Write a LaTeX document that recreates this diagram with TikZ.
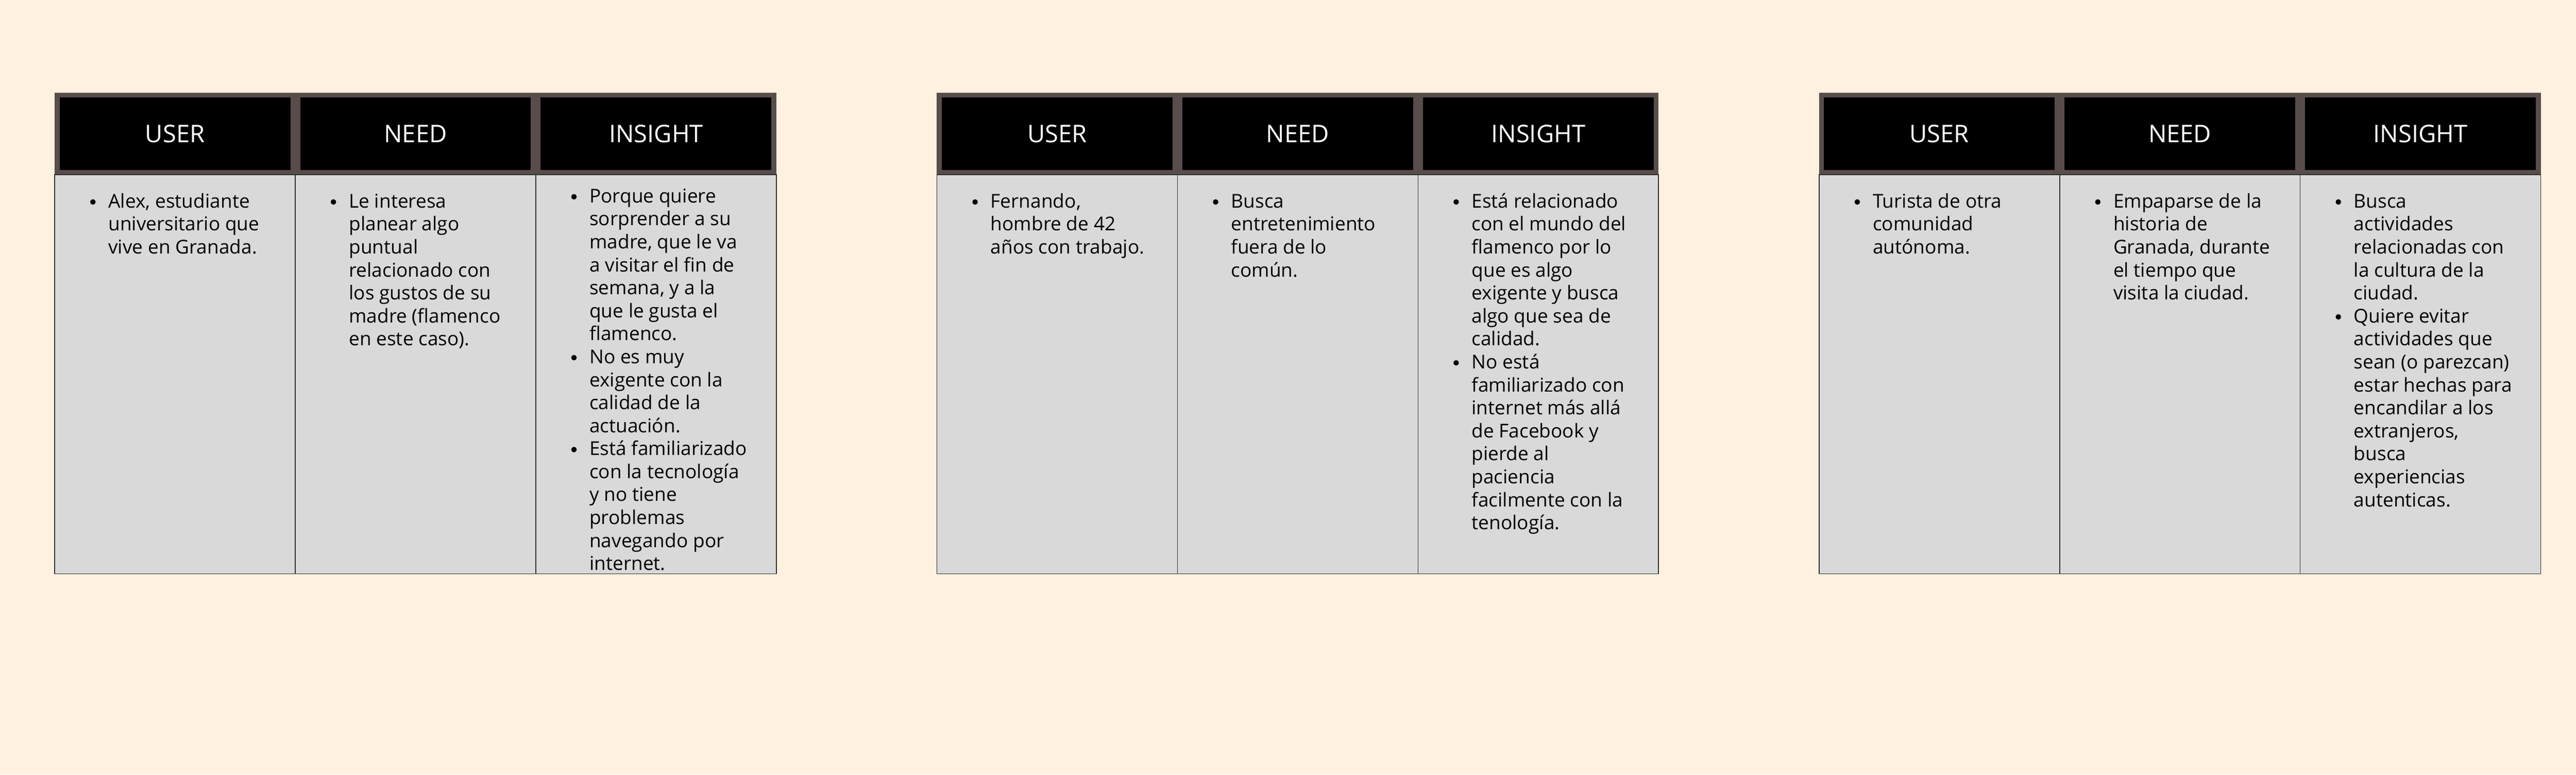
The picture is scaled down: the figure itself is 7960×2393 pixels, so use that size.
\documentclass[tikz,border=0pt]{standalone}
\usepackage{fontspec}
\setmainfont{Open Sans}
\definecolor{bgcream}{HTML}{FFF1DF}
\definecolor{bandbrown}{HTML}{594D4B}
\definecolor{cellgray}{HTML}{D9D9D9}
\definecolor{cellline}{HTML}{2E2E2E}
\newcommand\bdot{\tikz[baseline=0pt,x=1pt,y=1pt]\fill[black] (0,18) circle (8.5);}
\newcommand\bitem[1]{\hbox{\hskip-48pt\relax\hbox to 0pt{\hss\bdot\hss}\hskip48pt\relax #1}}
\newcommand\tline[1]{\hbox{#1}}
\newcommand\cellbox[1]{\vtop{\baselineskip=71pt\relax\lineskiplimit=-100pt\relax #1}}
\tikzset{
  hdrcell/.style={fill=black, text=white, minimum width=713pt, minimum height=225pt,
    inner sep=0pt, outer sep=0pt, font=\fontsize{75}{90}\selectfont},
  bodycell/.style={fill=cellgray, draw=cellline, line width=2.5pt, minimum width=743.3pt,
    minimum height=1233pt, inner sep=0pt, outer sep=0pt},
  txt/.style={anchor=base west, inner sep=0pt, outer sep=0pt, text=black,
    font=\fontsize{59}{71}\selectfont},
  band/.style={fill=bandbrown}
}
\begin{document}
\begin{tikzpicture}[x=1pt,y=-1pt]
\useasboundingbox[fill=bgcream] (0,0) rectangle (7960,2393);

% ---------- Table 1 ----------
\begin{scope}[xshift=169pt]
  \fill[band] (0,286) rectangle (2230,540);
  \node[hdrcell] (aH1) at (371.65,413.5) {USER};
  \node[hdrcell] (aH2) at (1114.95,413.5) {NEED};
  \node[hdrcell] (aH3) at (1858.25,413.5) {INSIGHT};
  \node[bodycell] (aB1) at (371.65,1156.5) {};
  \node[bodycell] (aB2) at (1114.95,1156.5) {};
  \node[bodycell] (aB3) at (1858.25,1156.5) {};
  \node[txt] (aT1) at (166,642) {\cellbox{%
    \bitem{Alex, estudiante}\tline{universitario que}\tline{vive en Granada.}}};
  \node[txt] (aT2) at (909.3,642) {\cellbox{%
    \bitem{Le interesa}\tline{planear algo}\tline{puntual}\tline{relacionado con}%
    \tline{los gustos de su}\tline{madre (flamenco}\tline{en este caso).}}};
  \node[txt] (aT3) at (1652.6,626) {\cellbox{%
    \bitem{Porque quiere}\tline{sorprender a su}\tline{madre, que le va}%
    \tline{a visitar el fin de}\tline{semana, y a la}\tline{que le gusta el}\tline{flamenco.}%
    \bitem{No es muy}\tline{exigente con la}\tline{calidad de la}\tline{actuación.}%
    \bitem{Está familiarizado}\tline{con la tecnología}\tline{y no tiene}%
    \tline{problemas}\tline{navegando por}\tline{internet.}}};
\end{scope}

% ---------- Table 2 ----------
\begin{scope}[xshift=2895pt]
  \fill[band] (0,286) rectangle (2230,540);
  \node[hdrcell] (bH1) at (371.65,413.5) {USER};
  \node[hdrcell] (bH2) at (1114.95,413.5) {NEED};
  \node[hdrcell] (bH3) at (1858.25,413.5) {INSIGHT};
  \node[bodycell] (bB1) at (371.65,1156.5) {};
  \node[bodycell] (bB2) at (1114.95,1156.5) {};
  \node[bodycell] (bB3) at (1858.25,1156.5) {};
  \node[txt] (bT1) at (166,642) {\cellbox{%
    \bitem{Fernando,}\tline{hombre de 42}\tline{años con trabajo.}}};
  \node[txt] (bT2) at (909.3,642) {\cellbox{%
    \bitem{Busca}\tline{entretenimiento}\tline{fuera de lo}\tline{común.}}};
  \node[txt] (bT3) at (1652.6,642) {\cellbox{%
    \bitem{Está relacionado}\tline{con el mundo del}\tline{flamenco por lo}%
    \tline{que es algo}\tline{exigente y busca}\tline{algo que sea de}\tline{calidad.}%
    \bitem{No está}\tline{familiarizado con}\tline{internet más allá}%
    \tline{de Facebook y}\tline{pierde al}\tline{paciencia}%
    \tline{facilmente con la}\tline{tenología.}}};
\end{scope}

% ---------- Table 3 ----------
\begin{scope}[xshift=5621pt]
  \fill[band] (0,286) rectangle (2230,540);
  \node[hdrcell] (cH1) at (371.65,413.5) {USER};
  \node[hdrcell] (cH2) at (1114.95,413.5) {NEED};
  \node[hdrcell] (cH3) at (1858.25,413.5) {INSIGHT};
  \node[bodycell] (cB1) at (371.65,1156.5) {};
  \node[bodycell] (cB2) at (1114.95,1156.5) {};
  \node[bodycell] (cB3) at (1858.25,1156.5) {};
  \node[txt] (cT1) at (166,642) {\cellbox{%
    \bitem{Turista de otra}\tline{comunidad}\tline{autónoma.}}};
  \node[txt] (cT2) at (909.3,642) {\cellbox{%
    \bitem{Empaparse de la}\tline{historia de}\tline{Granada, durante}%
    \tline{el tiempo que}\tline{visita la ciudad.}}};
  \node[txt] (cT3) at (1652.6,642) {\cellbox{%
    \bitem{Busca}\tline{actividades}\tline{relacionadas con}%
    \tline{la cultura de la}\tline{ciudad.}%
    \bitem{Quiere evitar}\tline{actividades que}\tline{sean (o parezcan)}%
    \tline{estar hechas para}\tline{encandilar a los}\tline{extranjeros,}%
    \tline{busca}\tline{experiencias}\tline{autenticas.}}};
\end{scope}
\end{tikzpicture}
\end{document}
